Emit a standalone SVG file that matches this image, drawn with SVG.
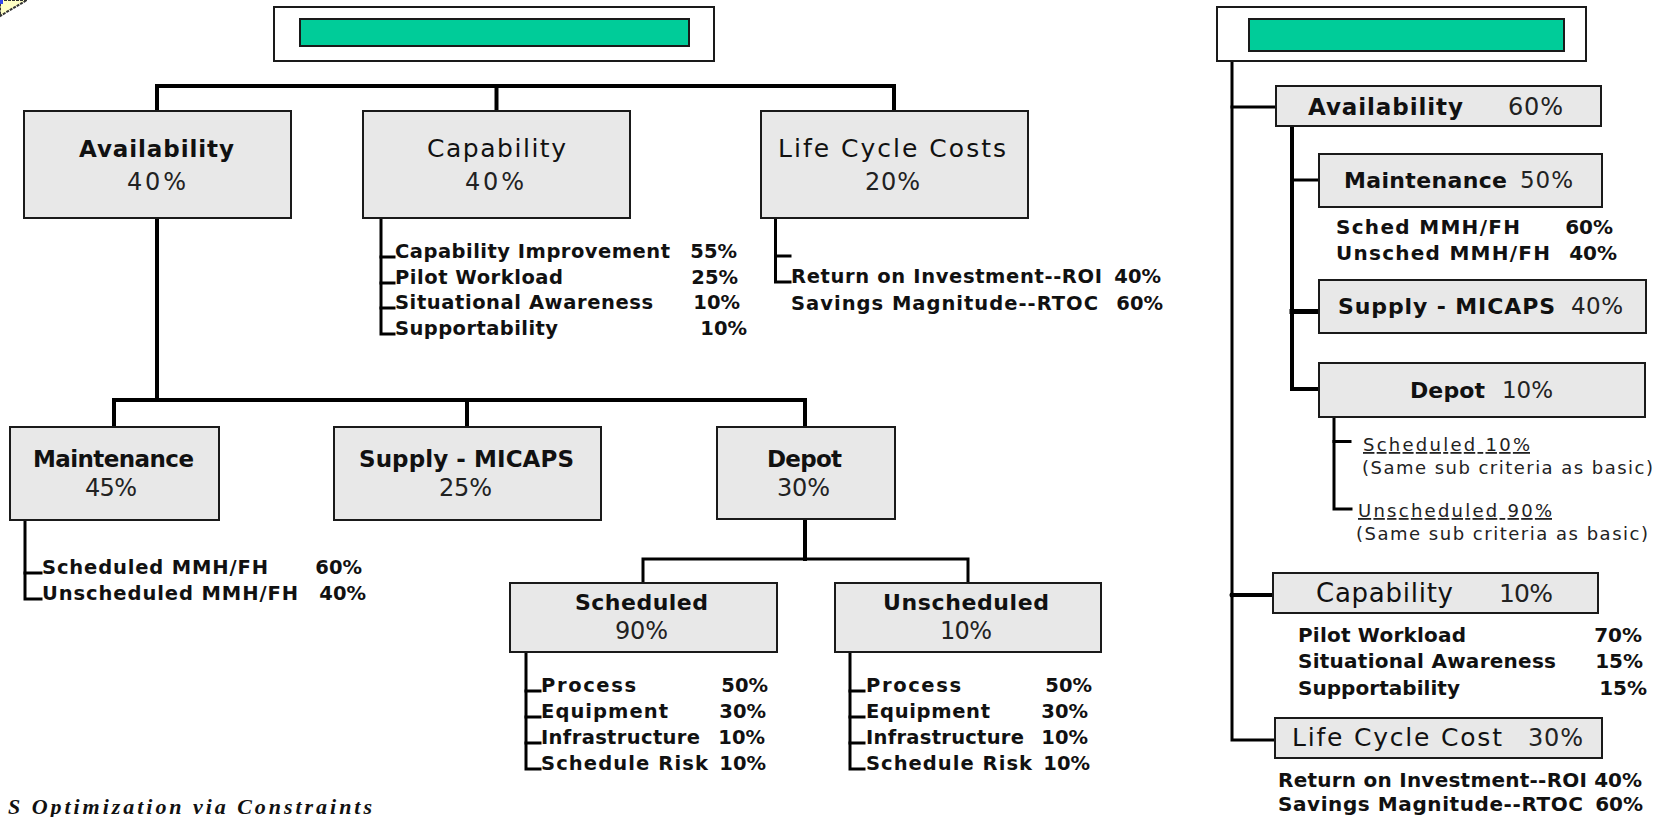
<svg xmlns="http://www.w3.org/2000/svg" width="1670" height="817" viewBox="0 0 1670 817">
  <style>
    .box{fill:#e8e8e8;stroke:#1a1a1a;stroke-width:2}
    .frame{fill:#fff;stroke:#1a1a1a;stroke-width:2}
    .bar{fill:#00cc99;stroke:#1a1a1a;stroke-width:2}
    .t{font-family:"DejaVu Sans","Liberation Sans",Arial,sans-serif;fill:#111}
    .tb{font-weight:bold;font-size:23px}
    .tr{font-weight:normal;font-size:25px}
    .pc{font-weight:normal;font-size:24px;fill:#222}
    .li{font-weight:bold;font-size:19.5px}
    .lr{font-weight:bold;font-size:20px}
    .nt{font-weight:normal;font-size:18px;fill:#222}
    .end{text-anchor:end}
    .ln{fill:none;stroke:#000;stroke-width:4;stroke-linecap:square}
    .ln3{fill:none;stroke:#000;stroke-width:3;stroke-linecap:square}
  </style>

  <!-- clip-art fragment in the corner -->
  <g id="corner-art">
    <polygon points="0,0 27,0 0,16" fill="#ffffc4" stroke="#333" stroke-width="2" stroke-dasharray="3 1"/>
    <rect x="0" y="0" width="3" height="4" fill="#3344ee"/>
  </g>

  <!-- connectors -->
  <g id="connectors">
    <!-- left tree, level 1 -->
    <path class="ln" d="M157,111 V86 H894 V111"/>
    <path class="ln" d="M496.5,86 V111"/>
    <!-- availability breakdown -->
    <path class="ln" d="M157,218 V400"/>
    <path class="ln" d="M114,427 V400 H805 V427"/>
    <path class="ln" d="M467,400 V427"/>
    <!-- depot breakdown -->
    <path class="ln" d="M805,519 V559"/>
    <path class="ln3" d="M643,583 V559 H968 V583"/>
    <!-- capability list -->
    <path class="ln3" d="M381,218 V334 H394"/>
    <path class="ln3" d="M381,257 H394 M381,283 H394 M381,308 H394"/>
    <!-- life cycle list -->
    <path class="ln3" d="M775.5,218 V282 H790"/>
    <path class="ln3" d="M775.5,256 H790"/>
    <!-- maintenance list -->
    <path class="ln3" d="M25,520 V599 H41"/>
    <path class="ln3" d="M25,573 H41"/>
    <!-- scheduled list -->
    <path class="ln3" d="M526,652 V769 H540"/>
    <path class="ln3" d="M526,691 H540 M526,717 H540 M526,743 H540"/>
    <!-- unscheduled list -->
    <path class="ln3" d="M850,652 V769 H864"/>
    <path class="ln3" d="M850,691 H864 M850,717 H864 M850,743 H864"/>

    <!-- right tree -->
    <path class="ln3" d="M1232,61 V740 H1275"/>
    <path class="ln3" d="M1232,107 H1276"/>
    <path class="ln" d="M1232,595 H1273"/>
    <circle cx="1232" cy="595" r="2.5" fill="#000"/>
    <path class="ln" d="M1292,126 V389 H1319"/>
    <path class="ln3" d="M1292,180 H1319"/>
    <path class="ln" d="M1292,311.5 H1319" style="stroke-width:5"/>
    <path class="ln3" d="M1334,417 V509 H1351"/>
    <path class="ln3" d="M1334,441.5 H1350"/>
  </g>

  <!-- left hierarchy -->
  <g id="title-left">
    <rect class="frame" x="274" y="7" width="440" height="54"/>
    <rect class="bar" x="300" y="19" width="389" height="27"/>
  </g>

  <g id="availability">
    <rect class="box" x="24" y="111" width="267" height="107"/>
    <text class="t tb" x="79" y="157" textLength="155" lengthAdjust="spacing">Availability</text>
    <text class="t pc" x="127" y="190" textLength="59" lengthAdjust="spacing">40%</text>
  </g>

  <g id="capability">
    <rect class="box" x="363" y="111" width="267" height="107"/>
    <text class="t tr" x="427" y="157" textLength="139" lengthAdjust="spacing">Capability</text>
    <text class="t pc" x="465" y="190" textLength="59" lengthAdjust="spacing">40%</text>
    <text class="t li" x="395" y="258" textLength="275" lengthAdjust="spacing">Capability Improvement</text>
    <text class="t li end" x="737" y="258">55%</text>
    <text class="t li" x="395" y="284" textLength="168" lengthAdjust="spacing">Pilot Workload</text>
    <text class="t li end" x="738" y="284">25%</text>
    <text class="t li" x="395" y="309" textLength="258" lengthAdjust="spacing">Situational Awareness</text>
    <text class="t li end" x="740" y="309">10%</text>
    <text class="t li" x="395" y="335" textLength="163" lengthAdjust="spacing">Supportability</text>
    <text class="t li end" x="747" y="335">10%</text>
  </g>

  <g id="life-cycle-costs">
    <rect class="box" x="761" y="111" width="267" height="107"/>
    <text class="t tr" x="778" y="157" textLength="228" lengthAdjust="spacing">Life Cycle Costs</text>
    <text class="t pc" x="865" y="190" textLength="55" lengthAdjust="spacing">20%</text>
    <text class="t li" x="791" y="283" textLength="311" lengthAdjust="spacing">Return on Investment--ROI</text>
    <text class="t li end" x="1161" y="283">40%</text>
    <text class="t li" x="791" y="310" textLength="307" lengthAdjust="spacing">Savings Magnitude--RTOC</text>
    <text class="t li end" x="1163" y="310">60%</text>
  </g>

  <g id="maintenance">
    <rect class="box" x="10" y="427" width="209" height="93"/>
    <text class="t tb" x="33" y="467" textLength="161" lengthAdjust="spacing">Maintenance</text>
    <text class="t pc" x="85" y="496" textLength="52" lengthAdjust="spacing">45%</text>
    <text class="t li" x="42" y="574" textLength="226" lengthAdjust="spacing">Scheduled MMH/FH</text>
    <text class="t li end" x="362" y="574">60%</text>
    <text class="t li" x="42" y="600" textLength="256" lengthAdjust="spacing">Unscheduled MMH/FH</text>
    <text class="t li end" x="366" y="600">40%</text>
  </g>

  <g id="supply">
    <rect class="box" x="334" y="427" width="267" height="93"/>
    <text class="t tb" x="359" y="467" textLength="215" lengthAdjust="spacing">Supply - MICAPS</text>
    <text class="t pc" x="439" y="496" textLength="53" lengthAdjust="spacing">25%</text>
  </g>

  <g id="depot">
    <rect class="box" x="717" y="427" width="178" height="92"/>
    <text class="t tb" x="767" y="467" textLength="75" lengthAdjust="spacing">Depot</text>
    <text class="t pc" x="777" y="496" textLength="53" lengthAdjust="spacing">30%</text>
  </g>

  <g id="scheduled">
    <rect class="box" x="510" y="583" width="267" height="69"/>
    <text class="t tb" x="575" y="610" textLength="133" lengthAdjust="spacing" style="font-size:22px">Scheduled</text>
    <text class="t pc" x="615" y="639" textLength="53" lengthAdjust="spacing">90%</text>
    <text class="t li" x="541" y="692" textLength="95" lengthAdjust="spacing">Process</text>
    <text class="t li end" x="768" y="692">50%</text>
    <text class="t li" x="541" y="718" textLength="127" lengthAdjust="spacing">Equipment</text>
    <text class="t li end" x="766" y="718">30%</text>
    <text class="t li" x="541" y="744" textLength="159" lengthAdjust="spacing">Infrastructure</text>
    <text class="t li end" x="765" y="744">10%</text>
    <text class="t li" x="541" y="770" textLength="167" lengthAdjust="spacing">Schedule Risk</text>
    <text class="t li end" x="766" y="770">10%</text>
  </g>

  <g id="unscheduled">
    <rect class="box" x="835" y="583" width="266" height="69"/>
    <text class="t tb" x="883" y="610" textLength="166" lengthAdjust="spacing" style="font-size:22px">Unscheduled</text>
    <text class="t pc" x="940" y="639" textLength="52" lengthAdjust="spacing">10%</text>
    <text class="t li" x="866" y="692" textLength="95" lengthAdjust="spacing">Process</text>
    <text class="t li end" x="1092" y="692">50%</text>
    <text class="t li" x="866" y="718" textLength="124" lengthAdjust="spacing">Equipment</text>
    <text class="t li end" x="1088" y="718">30%</text>
    <text class="t li" x="866" y="744" textLength="158" lengthAdjust="spacing">Infrastructure</text>
    <text class="t li end" x="1088" y="744">10%</text>
    <text class="t li" x="866" y="770" textLength="166" lengthAdjust="spacing">Schedule Risk</text>
    <text class="t li end" x="1090" y="770">10%</text>
  </g>

  <!-- right hierarchy -->
  <g id="title-right">
    <rect class="frame" x="1217" y="7" width="369" height="54"/>
    <rect class="bar" x="1249" y="19" width="315" height="32"/>
  </g>

  <g id="r-availability">
    <rect class="box" x="1276" y="86" width="325" height="40"/>
    <text class="t tb" x="1308" y="115" textLength="155" lengthAdjust="spacing">Availability</text>
    <text class="t pc" x="1508" y="115" textLength="55" lengthAdjust="spacing">60%</text>
  </g>

  <g id="r-maintenance">
    <rect class="box" x="1319" y="154" width="283" height="53"/>
    <text class="t tb" x="1344" y="188" textLength="163" lengthAdjust="spacing" style="font-size:22px">Maintenance</text>
    <text class="t pc" x="1520" y="188" textLength="53" lengthAdjust="spacing" style="font-size:23px">50%</text>
    <text class="t lr" x="1336" y="234" textLength="184" lengthAdjust="spacing">Sched  MMH/FH</text>
    <text class="t lr end" x="1613" y="234">60%</text>
    <text class="t lr" x="1336" y="260" textLength="214" lengthAdjust="spacing">Unsched  MMH/FH</text>
    <text class="t lr end" x="1617" y="260">40%</text>
  </g>

  <g id="r-supply">
    <rect class="box" x="1319" y="280" width="327" height="53"/>
    <text class="t tb" x="1338" y="314" textLength="217" lengthAdjust="spacing" style="font-size:22px">Supply - MICAPS</text>
    <text class="t pc" x="1571" y="314" textLength="52" lengthAdjust="spacing" style="font-size:23px">40%</text>
  </g>

  <g id="r-depot">
    <rect class="box" x="1319" y="363" width="326" height="54"/>
    <text class="t tb" x="1410" y="398" textLength="75" lengthAdjust="spacing" style="font-size:22px">Depot</text>
    <text class="t pc" x="1502" y="398" textLength="51" lengthAdjust="spacing" style="font-size:23px">10%</text>
    <text class="t nt" x="1363" y="451" textLength="167" lengthAdjust="spacing" text-decoration="underline">Scheduled  10%</text>
    <text class="t nt" x="1362" y="474" textLength="291" lengthAdjust="spacing">(Same sub criteria as basic)</text>
    <text class="t nt" x="1358" y="517" textLength="194" lengthAdjust="spacing" text-decoration="underline">Unscheduled  90%</text>
    <text class="t nt" x="1356" y="540" textLength="292" lengthAdjust="spacing">(Same sub criteria as basic)</text>
  </g>

  <g id="r-capability">
    <rect class="box" x="1273" y="573" width="325" height="40"/>
    <text class="t tr" x="1316" y="602" textLength="137" lengthAdjust="spacing" style="font-size:26px">Capability</text>
    <text class="t pc" x="1499" y="602" textLength="54" lengthAdjust="spacing" style="font-size:25px">10%</text>
    <text class="t lr" x="1298" y="642" textLength="168" lengthAdjust="spacing">Pilot Workload</text>
    <text class="t lr end" x="1642" y="642">70%</text>
    <text class="t lr" x="1298" y="668" textLength="258" lengthAdjust="spacing">Situational Awareness</text>
    <text class="t lr end" x="1643" y="668">15%</text>
    <text class="t lr" x="1298" y="695" textLength="162" lengthAdjust="spacing">Supportability</text>
    <text class="t lr end" x="1647" y="695">15%</text>
  </g>

  <g id="r-life-cycle-cost">
    <rect class="box" x="1275" y="718" width="327" height="40"/>
    <text class="t tr" x="1292" y="746" textLength="210" lengthAdjust="spacing">Life Cycle Cost</text>
    <text class="t pc" x="1528" y="746" textLength="55" lengthAdjust="spacing">30%</text>
    <text class="t lr" x="1278" y="787" textLength="309" lengthAdjust="spacing">Return on Investment--ROI</text>
    <text class="t lr end" x="1642" y="787">40%</text>
    <text class="t lr" x="1278" y="811" textLength="305" lengthAdjust="spacing">Savings Magnitude--RTOC</text>
    <text class="t lr end" x="1643" y="811">60%</text>
  </g>

  <!-- caption along the bottom edge -->
  <text x="8" y="814" textLength="364" lengthAdjust="spacing" style="font-family:'Liberation Serif','Times New Roman',serif;font-weight:bold;font-style:italic;font-size:22px;fill:#111">S Optimization via Constraints</text>
</svg>
